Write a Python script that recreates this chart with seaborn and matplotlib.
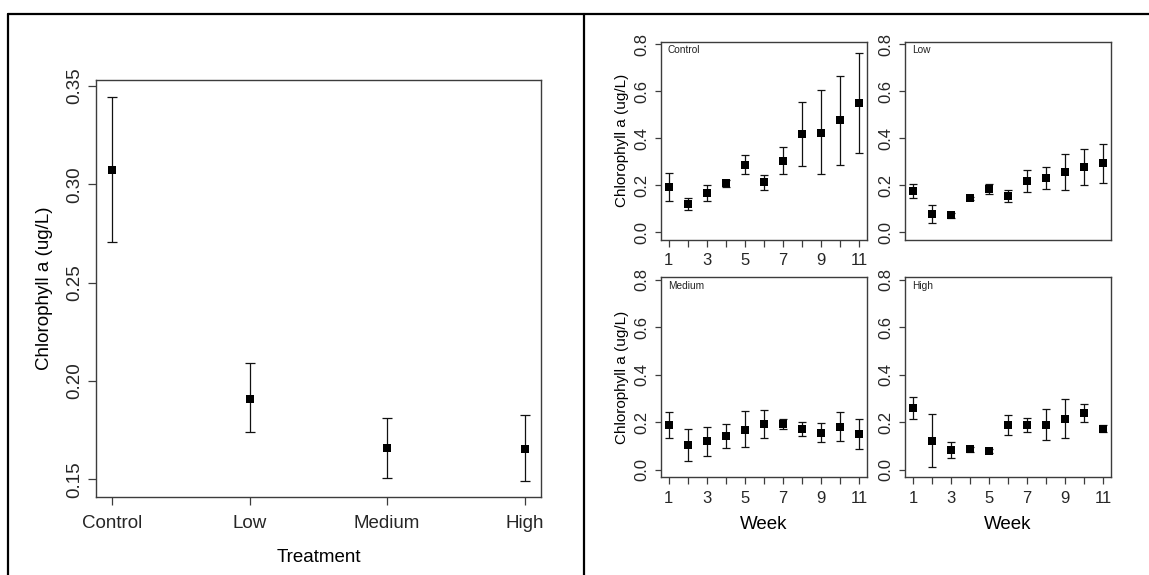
import matplotlib
matplotlib.use("Agg")
import matplotlib.pyplot as plt
from matplotlib.lines import Line2D
import numpy as np
import pandas as pd
import seaborn as sns

# Overall treatment means with their interval bounds
treatments = ["Control", "Low", "Medium", "High"]
overall_mean = [0.307, 0.191, 0.166, 0.1655]
overall_low = [0.2706, 0.174, 0.1509, 0.1491]
overall_high = [0.3444, 0.2091, 0.1813, 0.1826]

# Weekly means and interval bounds per treatment
weeks = [1, 2, 3, 4, 5, 6, 7, 8, 9, 10, 11]

control_mean = [0.192, 0.120, 0.166, 0.208, 0.288, 0.212, 0.302, 0.416, 0.424, 0.477, 0.551]
control_low = [0.131, 0.094, 0.134, 0.194, 0.248, 0.181, 0.248, 0.282, 0.248, 0.288, 0.335]
control_high = [0.251, 0.145, 0.202, 0.224, 0.327, 0.245, 0.362, 0.555, 0.604, 0.666, 0.764]

low_mean = [0.175, 0.077, 0.073, 0.144, 0.184, 0.154, 0.216, 0.229, 0.256, 0.278, 0.295]
low_low = [0.144, 0.038, 0.061, 0.137, 0.161, 0.128, 0.171, 0.185, 0.178, 0.202, 0.211]
low_high = [0.205, 0.118, 0.084, 0.150, 0.205, 0.181, 0.266, 0.279, 0.333, 0.354, 0.377]

medium_mean = [0.189, 0.102, 0.119, 0.141, 0.167, 0.193, 0.193, 0.169, 0.156, 0.180, 0.148]
medium_low = [0.135, 0.035, 0.058, 0.090, 0.097, 0.133, 0.173, 0.142, 0.116, 0.120, 0.087]
medium_high = [0.242, 0.170, 0.178, 0.191, 0.246, 0.249, 0.214, 0.199, 0.196, 0.242, 0.211]

high_mean = [0.261, 0.121, 0.084, 0.087, 0.078, 0.188, 0.187, 0.188, 0.213, 0.238, 0.173]
high_low = [0.211, 0.013, 0.049, 0.076, 0.069, 0.147, 0.157, 0.123, 0.133, 0.201, 0.157]
high_high = [0.304, 0.234, 0.118, 0.097, 0.087, 0.231, 0.217, 0.254, 0.297, 0.275, 0.188]

weekly = {
    "Control": (control_mean, control_low, control_high),
    "Low": (low_mean, low_low, low_high),
    "Medium": (medium_mean, medium_low, medium_high),
    "High": (high_mean, high_low, high_high),
}

sns.set_theme(style="ticks")
plt.rcParams["font.family"] = ["Liberation Sans", "DejaVu Sans"]
plt.rcParams["text.color"] = "black"
plt.rcParams["axes.labelcolor"] = "black"

W, H = 1149, 575
fig = plt.figure(figsize=(W / 100, H / 100), dpi=100)


def rect(x0, y0, x1, y1):
    return [x0 / W, 1 - y1 / H, (x1 - x0) / W, (y1 - y0) / H]


BOX = "#3c3c3c"


def frame(ax):
    for s in ax.spines.values():
        s.set_color(BOX)
        s.set_linewidth(1.0)
        s.set_visible(True)


def draw_points(ax, x, mean, lo, hi, cap, ms):
    df = pd.DataFrame({"x": x, "y": mean})
    err = [np.array(mean) - np.array(lo), np.array(hi) - np.array(mean)]
    ax.errorbar(x, mean, yerr=err, fmt="none", ecolor="#111111",
                elinewidth=0.9, capsize=cap, capthick=0.9, zorder=2)
    sns.scatterplot(data=df, x="x", y="y", marker="s", s=ms ** 2,
                    color="black", edgecolor="black", linewidth=0,
                    legend=False, ax=ax, zorder=3)


# ---- left: overall treatment means ----
ax0 = fig.add_axes(rect(96, 80, 541, 497))
pos = list(range(len(treatments)))
draw_points(ax0, pos, overall_mean, overall_low, overall_high, cap=3.5, ms=5.2)
ax0.set_xlim(-0.12, 3.12)
ax0.set_ylim(0.141, 0.353)
ax0.set_xticks(pos)
ax0.set_xticklabels(treatments)
ax0.set_yticks([0.15, 0.20, 0.25, 0.30, 0.35])
ax0.set_yticklabels(["0.15", "0.20", "0.25", "0.30", "0.35"], rotation=90, va="center")
ax0.tick_params(axis="both", labelsize=13.5, length=5.5, width=0.9, color=BOX)
ax0.tick_params(axis="x", pad=7.5)
ax0.tick_params(axis="y", pad=4)
ax0.set_xlabel("Treatment", fontsize=13.5, labelpad=12.5)
ax0.set_ylabel("Chlorophyll a (ug/L)", fontsize=13.5, labelpad=9)
frame(ax0)

# ---- right: weekly means per treatment ----
panels = {
    "Control": rect(661, 41.5, 866.7, 239.6),
    "Low": rect(905.3, 41.5, 1110.7, 239.6),
    "Medium": rect(661, 277, 866.7, 477),
    "High": rect(905.3, 277, 1110.7, 477),
}
week_labels = [str(w) if w % 2 == 1 else "" for w in weeks]

for name, r in panels.items():
    ax = fig.add_axes(r)
    m, lo, hi = weekly[name]
    draw_points(ax, weeks, m, lo, hi, cap=2.9, ms=5.4)
    ax.set_xlim(0.6, 11.4)
    ax.set_ylim(-0.0312, 0.8112)
    ax.set_yticks([0.0, 0.2, 0.4, 0.6, 0.8])
    ax.set_yticklabels(["0.0", "0.2", "0.4", "0.6", "0.8"], rotation=90, va="center")
    ax.tick_params(axis="y", labelsize=12, length=4, width=0.9, color=BOX, pad=4.5)
    if name == "Low":
        ax.set_xticks([])
    else:
        ax.set_xticks(weeks)
        ax.set_xticklabels(week_labels)
        ax.tick_params(axis="x", labelsize=12, length=5, width=0.9, color=BOX, pad=5)
    ax.set_xlabel("Week" if name in ("Medium", "High") else "", fontsize=13.5, labelpad=7)
    ax.set_ylabel("Chlorophyll a (ug/L)" if name in ("Control", "Medium") else "",
                  fontsize=11, labelpad=4)
    ax.text(0.034, 0.955, name, transform=ax.transAxes, fontsize=7.3,
            ha="left", va="center", color="#222222")
    frame(ax)

# ---- outer frame and divider ----
lw = 1.6
fig.add_artist(Line2D([8 / W, 1.0], [1 - 14 / H, 1 - 14 / H], color="black", lw=lw,
                      transform=fig.transFigure))
fig.add_artist(Line2D([8 / W, 8 / W], [0.0, 1 - 14 / H], color="black", lw=lw,
                      transform=fig.transFigure))
fig.add_artist(Line2D([584 / W, 584 / W], [0.0, 1 - 14 / H], color="black", lw=lw,
                      transform=fig.transFigure))

fig.savefig("out.png", dpi=100, facecolor="white")
